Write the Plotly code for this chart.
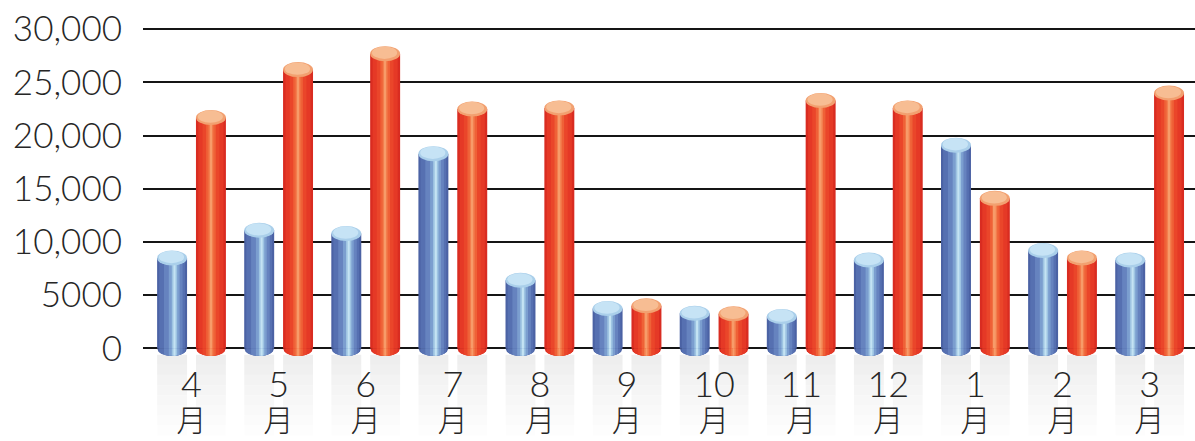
import numpy as np
import plotly.graph_objects as go

# ---- data ----
months = ["4", "5", "6", "7", "8", "9", "10", "11", "12", "1", "2", "3"]
month_suffix = "月"
series_blue = [8500, 11100, 10800, 18300, 6400, 3750, 3300, 3000, 8300, 19100, 9200, 8300]
series_red = [21700, 26200, 27700, 22500, 22600, 4000, 3250, 23300, 22600, 14100, 8500, 24000]
y_tickvals = [0, 5000, 10000, 15000, 20000, 25000, 30000]
y_ticktext = ["0", "5000", "10,000", "15,000", "20,000", "25,000", "30,000"]

# ---- geometry / style ----
W_PX, H_PX = 1195, 441
M_L, M_R, M_T, M_B = 143, 0, 26, 82
Y0, Y1 = -1000, 30300
X0, X1 = -0.557, 11.521
BAR_W = 0.344
OFFS = {"blue": -0.223, "red": 0.223}
plot_h = H_PX - M_T - M_B
units_per_px = (Y1 - Y0) / plot_h
CAP_H = 7.5 * units_per_px  # half-height of the elliptical caps

layers = {
    "blue": [(1.00, 0.00, "#4b62a4"), (0.86, 0.00, "#5670b1"), (0.62, 0.04, "#6683bf"),
             (0.36, 0.07, "#7b9ecf"), (0.18, 0.08, "#9ec4e2"), (0.07, 0.08, "#c4e3f3")],
    "red": [(1.00, 0.00, "#d92c21"), (0.84, 0.00, "#e53926"), (0.56, 0.00, "#ea462a"),
            (0.32, 0.00, "#ef6137"), (0.16, 0.00, "#f37e4d"), (0.06, 0.00, "#f79b69")],
}
caps = {"blue": ("#aacfea", "#c6e3f5"), "red": ("#f2a070", "#f7bd93")}

x = np.arange(len(months))
values = {"blue": series_blue, "red": series_red}

fig = go.Figure()
shapes = []

def paper_y(v):
    return (v - Y0) / (Y1 - Y0)

for key in ["blue", "red"]:
    vals = values[key]
    c = OFFS[key]
    # reflections below the baseline
    for i, xi in enumerate(x):
        xl, xr = xi + c - BAR_W / 2, xi + c + BAR_W / 2
        steps = 8
        top, bot = -600, -8200
        for k in range(steps):
            a = top + (bot - top) * k / steps
            b = top + (bot - top) * (k + 1) / steps
            shapes.append(dict(type="rect", xref="x", yref="paper", layer="below",
                               x0=xl, x1=xr, y0=paper_y(a), y1=paper_y(b),
                               fillcolor="rgba(0,0,0,%.3f)" % (0.065 * (1 - k / steps)),
                               line=dict(width=0)))
    # body layers
    for f, s, col in layers[key]:
        w = f * BAR_W
        fig.add_trace(go.Bar(x=x, y=vals, width=w, offset=c + s * BAR_W - w / 2,
                             marker=dict(color=col, line=dict(width=0)),
                             showlegend=False, hoverinfo="skip"))
        # rounded bottom of this layer
        for xi in x:
            cx = xi + c
            xs = np.linspace(cx + s * BAR_W - w / 2, cx + s * BAR_W + w / 2, 24)
            u = np.clip((xs - cx) / (BAR_W / 2), -1, 1)
            ys = -CAP_H * np.sqrt(1 - u ** 2)
            path = "M %f,0 " % xs[0] + " ".join("L %f,%f" % (a, b) for a, b in zip(xs, ys)) + " L %f,0 Z" % xs[-1]
            shapes.append(dict(type="path", xref="x", yref="y", layer="above",
                               path=path, fillcolor=col, line=dict(width=0)))
    # top caps
    outer, inner = caps[key]
    for xi, v in zip(x, vals):
        cx = xi + c
        shapes.append(dict(type="circle", xref="x", yref="y", layer="above",
                           x0=cx - BAR_W / 2, x1=cx + BAR_W / 2, y0=v - CAP_H, y1=v + CAP_H,
                           fillcolor=outer, line=dict(width=0)))
        shapes.append(dict(type="circle", xref="x", yref="y", layer="above",
                           x0=cx - BAR_W * 0.44, x1=cx + BAR_W * 0.40,
                           y0=v - CAP_H * 0.70, y1=v + CAP_H * 0.95,
                           fillcolor=inner, line=dict(width=0)))

ticktext = ['<span style="font-size:36px">%s</span><br><span style="font-size:30px">%s</span>'
            % (m, month_suffix) for m in months]

fig.update_layout(
    width=W_PX, height=H_PX,
    margin=dict(l=M_L, r=M_R, t=M_T, b=M_B, pad=0, autoexpand=False),
    paper_bgcolor="white", plot_bgcolor="white",
    barmode="overlay",
    showlegend=False,
    font=dict(family="Lato, 'Noto Sans CJK JP', sans-serif", color="#262626", weight=300),
    shapes=shapes,
    xaxis=dict(type="linear", range=[X0, X1], tickmode="array", tickvals=x, ticktext=ticktext,
               showgrid=False, zeroline=False, showline=False, ticks="", automargin=False,
               tickfont=dict(size=26, color="#262626"), ticklabelstandoff=11),
    yaxis=dict(range=[Y0, Y1], tickmode="array", tickvals=y_tickvals, ticktext=y_ticktext,
               showgrid=True, gridcolor="#151515", gridwidth=2, zeroline=False, showline=False,
               ticks="", automargin=False,
               tickfont=dict(size=35, color="#262626"), ticklabelstandoff=20),
)

fig.write_html("out.html")
